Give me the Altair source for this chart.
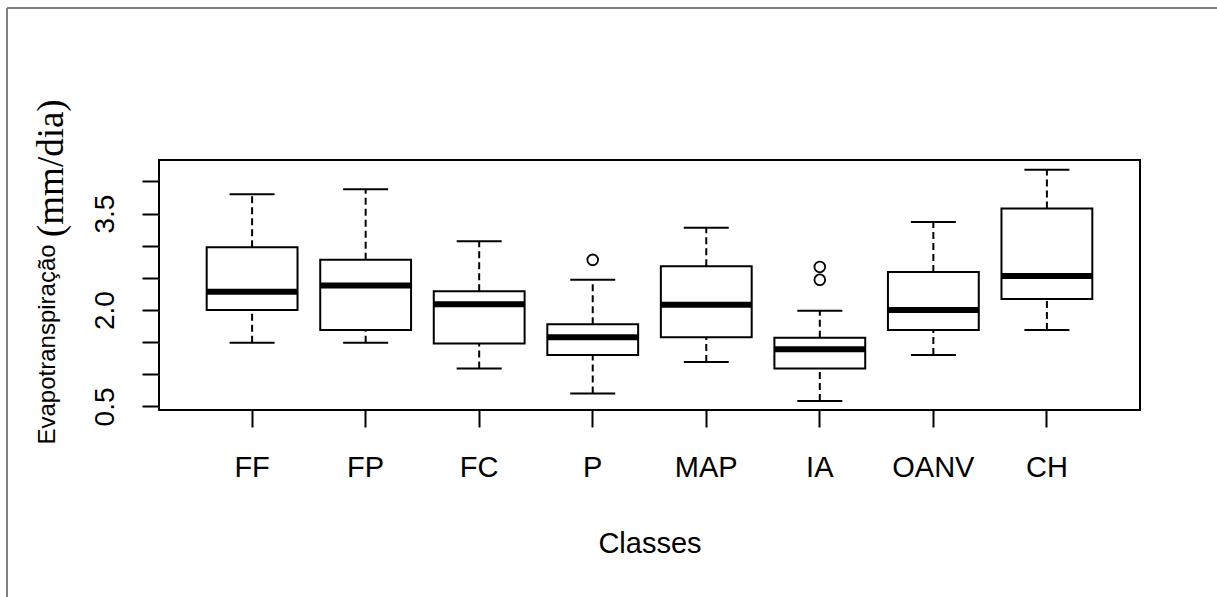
import altair as alt
import pandas as pd

# Five-number summaries of daily evapotranspiration per land-cover class
classes = ["FF", "FP", "FC", "P", "MAP", "IA", "OANV", "CH"]
lower_whisker = [1.49, 1.49, 1.09, 0.70, 1.19, 0.585, 1.30, 1.69]
q1 = [2.00, 1.69, 1.48, 1.30, 1.575, 1.09, 1.69, 2.17]
median = [2.285, 2.38, 2.09, 1.575, 2.08, 1.39, 2.00, 2.53]
q3 = [2.975, 2.78, 2.29, 1.78, 2.68, 1.57, 2.59, 3.58]
upper_whisker = [3.80, 3.88, 3.07, 2.47, 3.28, 1.99, 3.37, 4.18]

# Points beyond the whiskers
outlier_class = ["P", "IA", "IA"]
outlier_value = [2.78, 2.67, 2.47]

y_ticks = [0.5, 1.0, 1.5, 2.0, 2.5, 3.0, 3.5, 4.0]
y_labelled = ["0.5", "2.0", "3.5"]

stats = pd.DataFrame({
    "classe": classes, "low": lower_whisker, "q1": q1,
    "med": median, "q3": q3, "high": upper_whisker,
})
whiskers = pd.concat([
    pd.DataFrame({"classe": classes, "a": q3, "b": upper_whisker}),
    pd.DataFrame({"classe": classes, "a": lower_whisker, "b": q1}),
])
caps = pd.concat([
    pd.DataFrame({"classe": classes, "v": upper_whisker}),
    pd.DataFrame({"classe": classes, "v": lower_whisker}),
])
outliers = pd.DataFrame({"classe": outlier_class, "v": outlier_value})

FONT = "Liberation Sans"

x_scale = alt.Scale(type="band", domain=classes, paddingInner=0.2, paddingOuter=0.42)
y_scale = alt.Scale(domain=[0.445, 4.333], nice=False, zero=False)

x_axis = alt.Axis(
    title="Classes", domain=False, grid=False, labelAngle=0,
    tickSize=17, tickWidth=2, tickColor="black",
    labelFont=FONT, labelFontSize=29, labelColor="black",
    labelBaseline="alphabetic", labelPadding=49,
    titleFont=FONT, titleFontSize=29, titleFontWeight="normal",
    titleColor="black", titleBaseline="alphabetic", titleY=142,
)
label_list = "[" + ",".join("'" + s + "'" for s in y_labelled) + "]"
y_axis = alt.Axis(
    title="Evapotranspiração", domain=False, grid=False,
    values=y_ticks, tickSize=17, tickWidth=2, tickColor="black",
    labelExpr=f"indexof({label_list}, format(datum.value, '.1f')) >= 0 ? format(datum.value, '.1f') : ''",
    labelAngle=270, labelAlign="center", labelBaseline="alphabetic",
    labelPadding=29, labelOverlap=False, labelFlush=False,
    labelFont=FONT, labelFontSize=28, labelColor="black",
    titleFont=FONT, titleFontSize=24, titleFontWeight="normal",
    titleColor="black", titleAngle=270, titleAlign="left",
    titleBaseline="alphabetic", titleX=-105, titleY=284,
)


def x_enc():
    return alt.X("classe:N", scale=x_scale, axis=x_axis)


def y_enc(field):
    return alt.Y(field, scale=y_scale, axis=y_axis)


whisker_layer = alt.Chart(whiskers).mark_rule(
    color="black", strokeWidth=2, strokeDash=[7, 4]
).encode(x=x_enc(), y=y_enc("a:Q"), y2="b:Q")

cap_layer = alt.Chart(caps).mark_tick(
    color="black", size=45, thickness=2, orient="horizontal", opacity=1
).encode(x=x_enc(), y=y_enc("v:Q"))

box_layer = alt.Chart(stats).mark_bar(
    fill="white", stroke="black", strokeWidth=2, opacity=1
).encode(x=x_enc(), y=y_enc("q1:Q"), y2="q3:Q")

median_layer = alt.Chart(stats).mark_tick(
    color="black", size=91, thickness=6, orient="horizontal", opacity=1
).encode(x=x_enc(), y=y_enc("med:Q"))

outlier_layer = alt.Chart(outliers).mark_point(
    shape="circle", filled=False, color="black", size=115, strokeWidth=1.8, opacity=1
).encode(x=x_enc(), y=y_enc("v:Q"))

# Unit part of the y-axis title, set in a serif face
unit_layer = alt.Chart(alt.Data(values=[{}])).mark_text(
    text="(mm/dia)", font="Liberation Serif", fontSize=37, angle=270,
    align="left", baseline="alphabetic", color="black",
).encode(x=alt.value(-96), y=alt.value(77))

# Grey figure border on the left and top
frame_left = alt.Chart(alt.Data(values=[{}])).mark_rule(
    color="#808080", strokeWidth=2
).encode(x=alt.value(-152), y=alt.value(-152), y2=alt.value(437))
frame_top = alt.Chart(alt.Data(values=[{}])).mark_rule(
    color="#808080", strokeWidth=2
).encode(y=alt.value(-152), x=alt.value(-152), x2=alt.value(1058))

chart = alt.layer(
    whisker_layer, cap_layer, box_layer, median_layer, outlier_layer,
    unit_layer, frame_left, frame_top,
).properties(
    width=981, height=250,
    autosize=alt.AutoSizeParams(type="none"),
    padding={"left": 159, "top": 160, "right": 77, "bottom": 187},
    background="white",
).configure_view(
    stroke="black", strokeWidth=2
)

chart.save("out.html", embed_options={"renderer": "svg", "actions": False})
